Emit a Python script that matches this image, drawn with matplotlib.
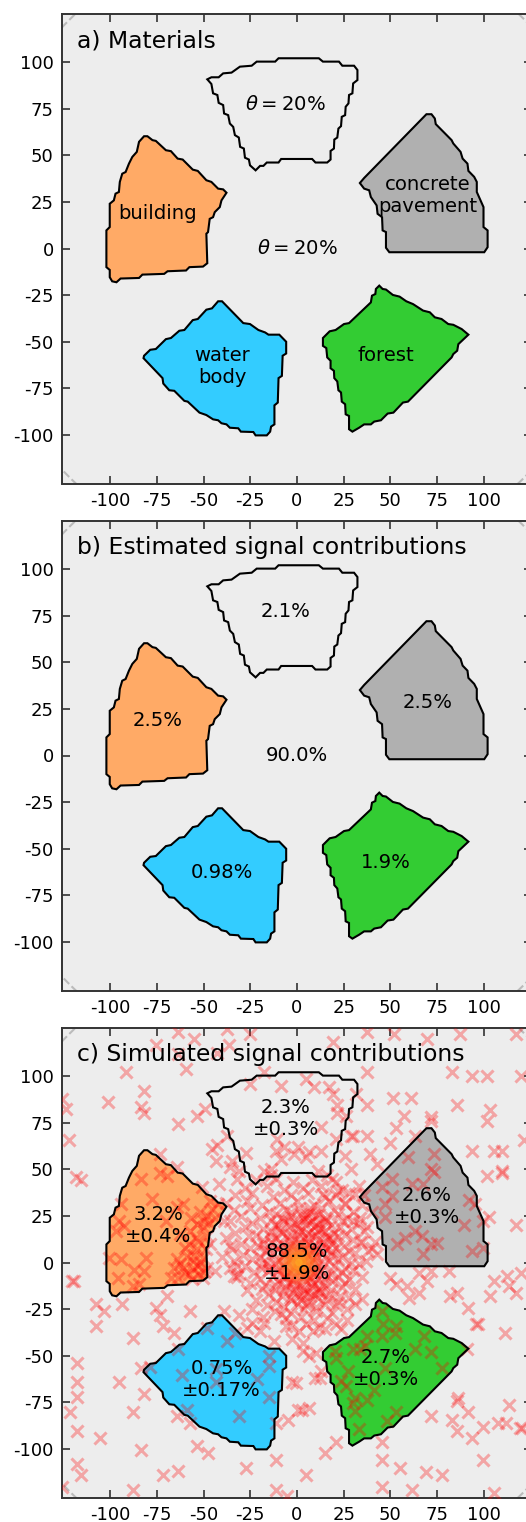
#!/usr/bin/env python

"""
Material map of the target with estimated and simulated signal contributions
"""

import numpy as np
from matplotlib import pyplot as plt
from matplotlib.patches import Circle, Polygon

plt.rcParams["axes.unicode_minus"] = False

# Region outlines (same units as the axes)
sky_outline = [
    (-48.1, 90.7), (-45.9, 91.8), (-42, 91.8), (-39.6, 93.9), (-35.1, 94.3), (-30.6, 97.5),
    (-24.3, 98), (-21.6, 100.2), (-11.7, 100.2), (-9.9, 102), (11.7, 102), (13.9, 100.2),
    (22.5, 100.2), (24.3, 98), (30.6, 98), (32.4, 95.7), (32.4, 90.3), (30.1, 88.5),
    (29.7, 83.2), (27.9, 82.3), (27.6, 77.8), (26.1, 76), (25.8, 71.5), (24, 70.6),
    (23.6, 65.6), (22.2, 64.3), (21.6, 59.5), (20, 58.4), (19.8, 53.6), (18, 52.3),
    (18, 47.7), (16.2, 46.1), (9.9, 46.1), (8.1, 48), (-8.5, 48), (-9.9, 46.1),
    (-16.2, 46.1), (-18, 44.3), (-19.8, 44.3), (-22.2, 41.9), (-25.2, 44.6), (-25.8, 47.7),
    (-27.9, 48.7), (-28.5, 53.6), (-30.5, 54.5), (-31.2, 59.5), (-33.3, 60.8), (-34.2, 65.2),
    (-36, 67), (-36.9, 71.5), (-39.1, 72.4), (-39.6, 76.9), (-42, 78.1), (-42.7, 82.3),
    (-45, 83.2), (-45.9, 88.2),
]
building_outline = [
    (-102.2, 9.7), (-100.4, 11.5), (-100.4, 24), (-98.2, 25.8), (-97.3, 29.4), (-95.5, 30.3),
    (-95, 35.7), (-93.7, 40.1), (-91.9, 41), (-90.1, 45.5), (-88.3, 49.1), (-85.9, 51.8),
    (-84.7, 57.2), (-82, 60.2), (-80.2, 60.2), (-77.5, 58.1), (-75.7, 57.7), (-70.3, 52.7),
    (-67.6, 52.2), (-64, 48.2), (-61.3, 47.7), (-55.9, 42.3), (-53.2, 41.6), (-48.6, 36.6),
    (-45.9, 35.7), (-42.3, 32.1), (-39.6, 31.7), (-37.8, 29.9), (-40.5, 25.8), (-41.4, 22.2),
    (-44.1, 19.5), (-45, 16.8), (-46.8, 15.9), (-47.7, 8.8), (-48.6, 7.9), (-48.1, -7.9),
    (-50.4, -9.7), (-57.7, -10), (-59.5, -11.8), (-69.4, -12.2), (-71.2, -13.6), (-82.9, -14),
    (-84.7, -15.8), (-94.6, -16.1), (-96.8, -18.1), (-99.1, -17.6), (-100.4, -15.4),
    (-100.4, -11.5), (-102.2, -10),
]
concrete_outline = [
    (33.7, 35.1), (36, 37.8), (69.4, 72), (72.1, 72), (73.9, 69.7), (74.4, 66.7),
    (82.9, 58.1), (83.8, 56.3), (87.7, 51.8), (88.8, 48.2), (91.4, 45.5), (91.9, 41.6),
    (95, 38.4), (96.4, 35.7), (96.4, 30.3), (100, 22.2), (100, 11.5), (102.2, 9.7),
    (102.2, 0.7), (100.4, -2), (49.5, -2), (47.7, 0.4), (47.7, 8.8), (45.9, 9.7),
    (45.6, 16.8), (43.2, 18.6), (42.7, 23.1), (39.6, 27.6), (38.7, 31.2), (36, 32.1),
]
water_outline = [
    (-82.3, -58.8), (-82, -57.5), (-78.7, -54.3), (-75.7, -53.9), (-70.3, -48.6), (-67.6, -48),
    (-63.1, -44.1), (-60.4, -43.7), (-55.9, -38.4), (-53.2, -37.8), (-48.6, -32.8),
    (-45.6, -32.1), (-42.3, -28.3), (-40.2, -28.3), (-28.8, -40), (-25.2, -40.5), (-20.7, -43.7),
    (-17.1, -45), (-15.3, -46.2), (-9.5, -46.2), (-5.8, -50), (-5.8, -56.3), (-7.7, -57.5),
    (-8.1, -68.3), (-9.9, -69.5), (-10.3, -82.6), (-12.1, -84.1), (-12.1, -94.3), (-13.9, -95.5),
    (-14.4, -98.2), (-16.2, -100.2), (-22.2, -100.2), (-23.4, -98.4), (-30.1, -98.2),
    (-31.5, -96.4), (-36, -96.1), (-37.8, -94.3), (-40.5, -93.7), (-42.3, -92.1), (-45, -91.6),
    (-48.6, -89.3), (-52.3, -88), (-58.6, -82.1), (-60.4, -81.7), (-65.8, -76.3), (-68.5, -76),
    (-71.7, -72.4), (-72.1, -69.5),
]
forest_outline = [
    (13.9, -48), (17.5, -44.4), (20.7, -43.7), (25.2, -40.5), (27.9, -40), (39.6, -28.9),
    (40.2, -25.3), (42, -24.4), (42.3, -21.7), (44.1, -19.9), (45.9, -21.7), (47.7, -22),
    (51.4, -24.9), (55, -25.8), (58.6, -28.3), (62.2, -29.8), (67.6, -33.3), (71.2, -34.2),
    (73.9, -36.9), (77.5, -37.8), (81.1, -40.5), (83.8, -40.9), (88.3, -43.2), (91.9, -46.2),
    (86.5, -51.3), (85.9, -54.8), (83.8, -56.6), (82.9, -58.4), (59.5, -82.1), (56.8, -82.6),
    (51.7, -88), (48.6, -88.5), (45, -92.1), (41.4, -92.8), (39.6, -94.3), (36, -94.3),
    (33.3, -96.1), (29.7, -98.2), (27.9, -96.9), (27.9, -89.8), (26.1, -88.9), (25.8, -83.5),
    (24, -82.1), (23.6, -77.2), (22.2, -76), (21.6, -71.3), (20, -69.5), (19.8, -65.6),
    (18, -64.2), (18, -60.2), (16.2, -58.4), (15.7, -53.4), (13.9, -52.2),
]

outlines = [sky_outline, building_outline, concrete_outline, water_outline, forest_outline]
fill_colors = ["none", "#ffaa66", "#b0b0b0", "#33ccff", "#33cc33"]

ticks = [-100, -75, -50, -25, 0, 25, 50, 75, 100]

# Simulated interaction points
upper_left_hits = [
    (-63.7, 123.6), (-55.3, 120), (-75.4, 116.4), (-63.7, 112), (-91.7, 102.1), (-59.6, 103.9),
    (-37.6, 125.4), (-25, 122.7), (-36.7, 116.4), (-42.7, 112.3), (-17.8, 102.1), (-25, 95.8),
    (-8.8, 94.9), (-125.9, 87.8), (-123.7, 82.4), (-81.8, 92.2), (-101.6, 86), (-83.6, 83.6),
    (-81.8, 80), (-49.3, 82.4), (-53.5, 78.3), (-63.7, 74), (-122.3, 65.9), (-73.7, 58.2),
    (-43, 63.2), (-45.7, 60.9), (-43.4, 54.3), (-37.6, 68), (-34.9, 54.6), (-35.8, 51),
    (-27.2, 58.6), (-31.3, 49.2), (-64.6, 51), (-118.7, 46), (-116, 44.2), (-11.5, 60),
    (-7, 61.8), (-8.8, 55.5), (-1.6, 58.2), (-14.2, 50.1), (-17.8, 49.2), (-10.6, 66.3),
]
building_hits = [
    (-73.7, 47.8), (-69.7, 46.5), (-83.6, 44.8), (-77.6, 34), (-61, 31.3), (-64.6, 29.5),
    (-94.4, 31.3), (-46.6, 33.1), (-42.1, 31.3), (-45.7, 28.6), (-51.1, 40.3), (-95.3, 22.4),
    (-92.6, 19.7), (-97.1, 17), (-53.8, 20.6), (-50.2, 18.8), (-57.4, 17), (-52.9, 11.6),
    (-62.8, 15.2), (-94.4, 1.8), (-100.7, 2.6), (-64.6, 1.7), (-59.2, 3.5), (-53.8, 7.1),
    (-50.2, 2.6), (-55.6, 0.9), (-46.6, 9.8), (-80.9, 2.6), (-87.2, -3.9), (-81.8, -4.5),
    (-84.5, -11.6), (-88.1, -12.5), (-67.3, -8.1), (-63.7, -8.1), (-60.1, -5.4), (-56.5, -9),
    (-62.8, -0.9), (-52.9, -6.3), (-50.2, -8.1), (-96.2, -8.1), (-57, 24), (-48, 25),
    (-58, 10), (-48, 14), (-70, 22), (-52, 0), (-56, -3), (-48.5, -3), (-54, 13), (-49, 7),
    (-60, 8), (-55, 4), (-58, -6), (-53, -2), (-50, -5), (-66, -3), (-61, -3), (-50, 22),
    (-44, 24), (-52, 27), (-47, 21),
]
lower_left_hits = [
    (-120.9, -9.9), (-119.5, -9.9), (-107.9, -22), (-103.7, -26), (-107.9, -34), (-93.8, -22),
    (-69.7, -17.9), (-75.5, -24.2), (-73.6, -28.3), (-71.8, -34), (-66.1, -37.6), (-57.4, -26),
    (-87.7, -40.3), (-117.8, -54.1), (-117.8, -64.2), (-117.8, -72.2), (-121.9, -80.3),
    (-117.8, -90.1), (-105.7, -94.1), (-95.6, -64.2), (-83.6, -56.5), (-78.7, -55.9),
    (-81.8, -70.3), (-87.7, -80.3), (-117.8, -108), (-116, -114.2), (-83.6, -100.4),
    (-71.8, -114.2), (-63.7, -112), (-87.7, -122.2), (-53.5, -98.2), (-47.5, -102.2),
    (-27.2, -110.2), (-11.1, -106.1), (-11.1, -122.2), (-5.2, -125.4), (-125.9, -120.4),
    (-63.7, -46.2), (-61.4, -60.4), (-48.4, -34.9), (-43.4, -64.2), (-43.4, -57.3),
    (-37.6, -42.1), (-33.1, -38), (-31.3, -82.1), (-59.2, -78.9), (-64.6, -82.1), (-57.4, -86),
    (-21.4, -62.7), (-15.1, -72.2), (-15.1, -50.2), (-15.1, -55.6), (-11.1, -86), (-4.8, -84.2),
    (-2.5, -64.2), (-39.4, -26), (-31.3, -28.1), (-24.1, -32.3), (-17.8, -32.3), (-26.8, -35),
    (-19.6, -36.7), (-12.4, -42.1), (-6.1, -34.1), (-8.8, -27.8), (-2.5, -41.2), (-34, -7.2),
    (-43.9, -4.5), (-32.2, -1.8),
]
forest_hits = [
    (45.4, -26), (46, -33.2), (53.2, -34), (52.7, -37.6), (45.4, -39.4), (37.3, -39.4),
    (36.4, -44.8), (30.1, -46.2), (33.7, -46.2), (20.2, -47.5), (21.1, -51), (27.4, -58.2),
    (23.8, -63.6), (26.5, -66.3), (41.3, -68.5), (31, -72.6), (37.3, -73.8), (30.1, -75.3),
    (31, -79.7), (53.2, -80.1), (48.2, -85.1), (33.2, -89.1), (63.5, -46.2), (68, -39.4),
    (71.6, -48), (77.9, -56.5), (91, -46.2), (47.3, -56.5),
]
lower_right_hits = [
    (49.6, -8.1), (53.2, -11.6), (59, -12.5), (65.3, -16.1), (69.8, -9.9), (65.3, -5.4),
    (59.9, -18.8), (71.6, -4.5), (81.5, -4.5), (82, -17.9), (85.6, -16.1), (91.8, -24.2),
    (95.9, -33.2), (97, -33.2), (111.6, -38), (103.6, -17.9), (105.8, -9.9), (112.7, -7.2),
    (113.9, -12.5), (117.5, -16.1), (119.9, -5.4), (34.6, -19.7), (21.1, -33.2), (23.8, -35.8),
    (14.8, -35.8), (8.5, -36.7), (1.3, -36.7), (3.1, -43), (3.1, -47.5), (10.3, -48.4),
    (6.7, -50.2), (-0.5, -64.5), (9.4, -61.8), (12.1, -61.8), (13, -58.2), (2.7, -78.9),
    (6.7, -78), (0.4, -78.9), (21.1, -96.4), (15.2, -102.2), (4.9, -114.2), (45.4, -96.4),
    (45.4, -106.1), (55.4, -110.2), (45.4, -120.4), (61.7, -122.2), (69.4, -112.4),
    (77.5, -114.2), (71.6, -82.1), (86.4, -72.6), (85.6, -74.4), (91.8, -80.1), (83.3, -84.2),
    (85.6, -90.1), (93.6, -94.1), (99.5, -88.2), (99.5, -106.1), (113.9, -76.2), (107.6, -86),
    (112.1, -86), (119.3, -88.7), (120.4, -88.7), (105.8, -123.7),
]
upper_right_hits = [
    (37.3, 123.6), (51.8, 122.4), (69.8, 120), (87.4, 122.4), (117.5, 122.4), (19.3, 118.2),
    (37.3, 102.1), (83.3, 102.1), (93.6, 100), (101.7, 100), (119.9, 100), (4.9, 98.2),
    (8.9, 94), (17, 94), (19.3, 90.5), (31.6, 90.1), (51.4, 88.1), (61.3, 88.1), (85.6, 84.2),
    (103.6, 82), (101.7, 76.1), (37.3, 84.2), (21.5, 84.2), (21.5, 80.1), (26.5, 78.8),
    (57.2, 78.3), (53.2, 72.2), (71.6, 77.9), (71.6, 76.1), (63.5, 68), (49.6, 64.1),
    (37.3, 68), (29.2, 68), (30.2, 68), (13, 72.5), (21.1, 66.3), (6.7, 59.1), (13, 60),
    (4.9, 56.4), (0.4, 61.8), (11.2, 49.2), (26, 57.3), (29.2, 50.1), (39.1, 58.2),
    (42.7, 52.8), (59.5, 56.4), (73.4, 58.2), (71.6, 50.1), (73.4, 48.3), (93.6, 60),
    (105.8, 60), (109.8, 60), (109.8, 49.2), (109.8, 48), (101.7, 46.2), (121.7, 65.9),
    (50.8, 44.8), (61.7, 42.1), (67.4, 42.1), (45.4, 40.3), (50.8, 35.8), (47.2, 31.3),
    (92.3, 33.5), (95.5, 31.5), (103.1, 24.2), (99.5, 22.4), (117.5, 20.2), (89.6, 20.2),
    (47.2, 24.2), (58.1, 13.4), (63.5, 17), (67.1, 14.3), (75.2, 10.2), (71.6, 9.8),
    (93.6, 6.1), (99.5, 8), (67.6, 4.4), (53.6, 9.8), (42.7, 4.4), (40, 8), (31, 36.7),
    (22, 38.5), (21.1, 43), (13.9, 36.7), (25.6, 31.3), (30.1, 22.4), (37.3, 18.8),
    (34.6, 11), (41.8, 11),
]
central_hits = [
    (-22, 44), (-11, 45), (-2, 43), (8, 44), (19, 45),
    (-28, 40), (-16, 41), (-7, 39), (3, 40), (13, 41), (24, 39), (33, 41),
    (-33, 36), (-24, 37), (-13, 35), (-3, 36), (6, 37), (15, 35), (21, 36), (28, 37),
    (-38, 32), (-27, 33), (-19, 31), (-9, 32), (0, 33), (9, 31), (17, 33), (26, 32), (35, 31),
    (-34, 28), (-25, 29), (-15, 27), (-6, 28), (1, 29), (7, 27), (13, 29), (20, 28), (30, 27),
    (-30, 25), (-20, 24), (-11, 26), (-3, 25), (3, 24), (6, 26), (10, 25), (15, 24), (22, 26), (27, 24),
    (-36, 22), (-24, 21), (-14, 23), (-7, 22), (-1, 21), (4, 23), (8, 22), (12, 21), (16, 23), (24, 22), (33, 21),
    (-28, 19), (-18, 18), (-10, 20), (-4, 19), (1, 18), (5, 20), (9, 19), (13, 18), (18, 20), (23, 19), (29, 18),
    (-33, 16), (-22, 15), (-14, 17), (-8, 16), (-3, 15), (2, 17), (6, 16), (10, 15), (15, 17), (20, 16), (26, 15), (36, 17),
    (-38, 13), (-26, 14), (-18, 12), (-11, 13), (-6, 14), (-1, 12), (4, 13), (8, 14), (12, 12), (17, 13), (22, 14), (30, 12),
    (-30, 10), (-21, 9), (-14, 11), (-8, 10), (-3, 9), (2, 11), (6, 10), (10, 9), (14, 11), (19, 10), (25, 9), (34, 11),
    (-35, 7), (-25, 8), (-17, 6), (-10, 7), (-5, 8), (0, 6), (4, 7), (8, 8), (12, 6), (16, 7), (21, 8), (28, 6),
    (-29, 4), (-20, 3), (-13, 5), (-7, 4), (-2, 3), (3, 5), (6, 4), (10, 3), (14, 5), (18, 4), (24, 3), (31, 5),
    (-34, 1), (-24, 2), (-16, 0), (-10, 1), (-4, 2), (0, 0), (4, 1), (8, 2), (12, 0), (17, 1), (22, 2), (29, 0), (37, 1),
    (-28, -2), (-19, -3), (-12, -1), (-7, -2), (-2, -3), (2, -1), (6, -2), (10, -3), (15, -1), (20, -2), (26, -3), (33, -1),
    (-23, -5), (-15, -4), (-9, -6), (-4, -5), (1, -4), (5, -6), (9, -5), (13, -4), (18, -6), (24, -5), (30, -4),
    (-32, -8), (-20, -9), (-13, -7), (-7, -8), (-2, -9), (3, -7), (7, -8), (11, -9), (16, -7), (22, -8), (28, -9),
    (-25, -11), (-17, -12), (-10, -10), (-5, -11), (0, -12), (5, -10), (9, -11), (14, -12), (19, -10), (26, -11),
    (-19, -14), (-12, -15), (-6, -13), (-1, -14), (4, -15), (8, -13), (12, -14), (18, -15), (24, -13), (31, -14),
    (-15, -17), (-8, -18), (-2, -16), (3, -17), (7, -18), (12, -16), (17, -17), (23, -18),
    (-22, -20), (-11, -21), (-4, -19), (2, -20), (6, -21), (11, -19), (16, -20), (22, -21), (28, -19),
    (-16, -23), (-7, -24), (0, -22), (5, -23), (10, -24), (15, -22), (21, -23),
    (-12, -26), (-3, -27), (4, -25), (10, -26), (19, -27), (27, -25),
    (-6, -30), (2, -29), (9, -31), (16, -30), (-3, -34), (5, -33), (12, -35),
    # the hot ring above the centre, overlapped several times
    (-8, 24), (-3, 27), (2, 26), (7, 29), (12, 26), (-12, 20), (-5, 22), (0, 20), (5, 24), (10, 20), (15, 22),
    (-14, 14), (-9, 17), (-4, 12), (1, 15), (6, 13), (11, 17), (16, 14), (-16, 6), (-11, 9), (-6, 5), (9, 6),
    (14, 9), (19, 6), (-15, -2), (-10, -4), (-6, -8), (10, -6), (15, -9), (-12, -12), (-7, -15), (-2, -11),
    (3, -13), (8, -10), (13, -16), (1, -18), (6, -16), (-3, -20), (9, -17), (-18, 10), (19, 12), (-19, 0),
    # wider, paler field around the centre
    (-39, 22), (-36, 9), (-40, 3), (-31, -6), (-36, -3), (-27, -15), (-24, -25), (-18, -29), (31, -22),
    (27, -31), (35, -8), (38, 6), (34, 24), (40, 27), (-42, 42), (-32, 45), (-14, 47), (16, 47), (36, 36),
]
hits = np.array(
    upper_left_hits + building_hits + lower_left_hits + forest_hits
    + lower_right_hits + upper_right_hits + central_hits
)

# Hot spot at the centre of panel c: radius and colour, outside to inside
core_radii = [12, 10, 8, 6, 4, 2]
core_colors = ["#ff4a20", "#ff6620", "#ff8020", "#ff9420", "#ffa820", "#ffba20"]


def draw_panel(ax, title, labels):
    ax.set_facecolor("#ededed")
    ax.set_xlim(-126, 126)
    ax.set_ylim(-126, 126)

    for outline, color in zip(outlines, fill_colors):
        ax.add_patch(Polygon(outline, closed=True, facecolor=color, edgecolor="none", zorder=2))
        ax.add_patch(Polygon(outline, closed=True, fill=False, edgecolor="black", linewidth=1.5, zorder=5))

    # Acceptance circle only shows in the corners
    ax.add_patch(Circle((0, 0), 173, fill=False, edgecolor="#bbbbbb", linestyle="--", linewidth=1.5, zorder=1))

    ax.set_xticks(ticks)
    ax.set_yticks(ticks)
    ax.tick_params(direction="in", length=6, width=1.1, top=True, right=True, labelsize=13, pad=6, color="#222222")
    for spine in ax.spines.values():
        spine.set_linewidth(1.4)
        spine.set_color("#333333")

    ax.text(-118, 107.8, title, fontsize=16.9, ha="left", va="baseline", zorder=8)
    for x, y, text in labels:
        ax.text(x, y, text, fontsize=14.1, ha="center", va="center", linespacing=1.2, zorder=8)


fig = plt.figure(figsize=(5.26, 15.22), dpi=100)
fig.patch.set_facecolor("white")

left = 62 / 526
width = 470 / 526
height = 470 / 1522
ax_a = fig.add_axes([left, 1 - 483.5 / 1522, width, height])
ax_b = fig.add_axes([left, 1 - 990.5 / 1522, width, height])
ax_c = fig.add_axes([left, 1 - 1497.5 / 1522, width, height])

draw_panel(ax_a, "a) Materials", [
    (-6, 77, r"$\theta = 20\%$"),
    (-74.5, 19, "building"),
    (70, 28.5, "concrete\npavement"),
    (0, 0, r"$\theta = 20\%$"),
    (-40.2, -63.5, "water\nbody"),
    (47.7, -57.5, "forest"),
])
draw_panel(ax_b, "b) Estimated signal contributions", [
    (-6, 77, "2.1%"),
    (-74.5, 19, "2.5%"),
    (70, 28.5, "2.5%"),
    (0, 0, "90.0%"),
    (-40, -63, "0.98%"),
    (47.7, -57.5, "1.9%"),
])
draw_panel(ax_c, "c) Simulated signal contributions", [
    (-6, 77, "2.3%\n±0.3%"),
    (-74.5, 20, "3.2%\n±0.4%"),
    (69.5, 30, "2.6%\n±0.3%"),
    (0, 0, "88.5%\n±1.9%"),
    (-40.5, -63, "0.75%\n±0.17%"),
    (47.5, -57, "2.7%\n±0.3%"),
])

ax_c.scatter(hits[:, 0], hits[:, 1], marker="x", s=75, linewidths=2.2, color="red", alpha=0.3, zorder=3)
for radius, color in zip(core_radii, core_colors):
    ax_c.add_patch(Circle((1, 0), radius, facecolor=color, edgecolor="none", alpha=0.4, zorder=4))

fig.savefig("out.png", dpi=100)
